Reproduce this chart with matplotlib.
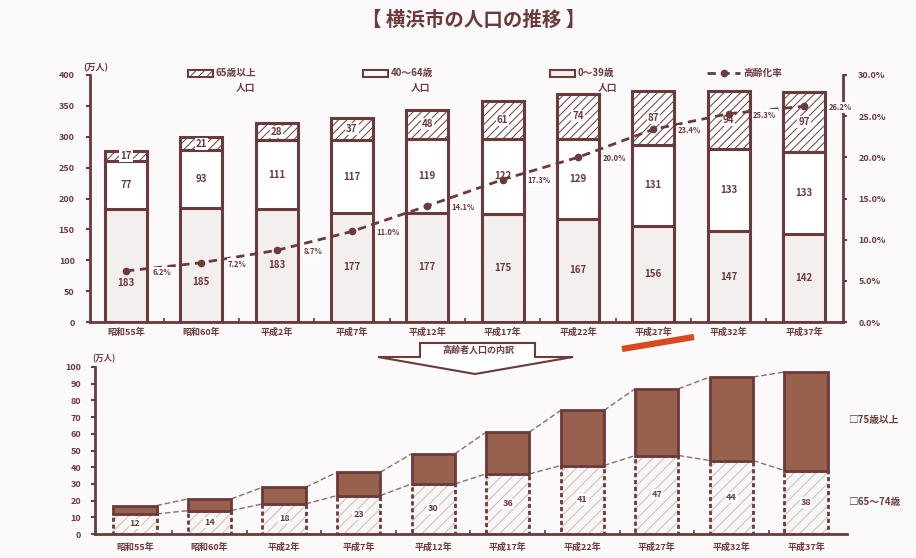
import numpy as np
import matplotlib.pyplot as plt
from matplotlib.patches import Rectangle, Polygon
from matplotlib.lines import Line2D

plt.rcParams['font.family'] = ['Noto Sans CJK JP', 'DejaVu Sans']
plt.rcParams['font.weight'] = 'bold'
plt.rcParams['hatch.linewidth'] = 0.7

# data (万人, %)
years = ['昭和55年', '昭和60年', '平成2年', '平成7年', '平成12年',
         '平成17年', '平成22年', '平成27年', '平成32年', '平成37年']
pop_0_39 = [183, 185, 183, 177, 177, 175, 167, 156, 147, 142]
pop_40_64 = [77, 93, 111, 117, 119, 122, 129, 131, 133, 133]
pop_65 = [17, 21, 28, 37, 48, 61, 74, 87, 94, 97]
aging_rate = [6.2, 7.2, 8.7, 11.0, 14.1, 17.3, 20.0, 23.4, 25.3, 26.2]

old_65_74 = [12, 14, 18, 23, 30, 36, 41, 47, 44, 38]
old_75 = [5, 7, 10, 14, 18, 25, 33, 40, 50, 59]

DARK = '#6b3a3a'
BROWN = '#98614e'
BG = '#fbf9f9'
LIGHT = '#f4efef'

W, H = 916, 558
fig = plt.figure(figsize=(W / 100, H / 100), dpi=100)
fig.patch.set_facecolor(BG)


def fx(px):
    return px / W


def fy(py):
    return 1 - py / H


x = np.arange(len(years))

# ---------------- top chart ----------------
ax = fig.add_axes([fx(90), fy(322), fx(843) - fx(90), fy(75) - fy(322)])
ax.set_facecolor('none')
bw = 0.56
b2 = np.array(pop_0_39) + np.array(pop_40_64)
ax.bar(x, pop_0_39, width=bw, color=LIGHT, edgecolor=DARK, linewidth=2.2)
ax.bar(x, pop_40_64, width=bw, bottom=pop_0_39, color='white', edgecolor=DARK, linewidth=2.2)
ax.bar(x, pop_65, width=bw, bottom=b2, color='white', edgecolor=DARK, linewidth=2.2, hatch='////')

ax.set_xlim(-0.478, 9.518)
ax.set_ylim(0, 400)
ax.set_yticks(range(0, 401, 50))
ax.set_xticks(x, years)
ax.set_xticks(x[:-1] + 0.5, minor=True)
ax.tick_params(axis='x', which='major', length=0, pad=4, labelsize=6.5, colors=DARK)
ax.tick_params(axis='x', which='minor', direction='in', length=3, width=1.2, color=DARK)
ax.tick_params(axis='y', length=3, width=1.5, pad=8, labelsize=6.5, colors=DARK)
for s in ['top', 'right']:
    ax.spines[s].set_visible(False)
for s in ['left', 'bottom']:
    ax.spines[s].set_color(DARK)
    ax.spines[s].set_linewidth(2)

for i in range(len(x)):
    y0 = pop_0_39[i] / 2
    if abs(y0 / 400 * 30 - aging_rate[i]) < 1.5:
        y0 -= 28
    ax.text(x[i], y0, str(pop_0_39[i]), ha='center', va='center', fontsize=7, color=DARK)
    ax.text(x[i], pop_0_39[i] + pop_40_64[i] / 2, str(pop_40_64[i]), ha='center', va='center',
            fontsize=7, color=DARK)
    ax.text(x[i], b2[i] + pop_65[i] / 2, str(pop_65[i]), ha='center', va='center', fontsize=7,
            color=DARK, bbox=dict(boxstyle='square,pad=0.1', fc='white', ec='none'))

ax2 = ax.twinx()
ax2.set_ylim(0, 30)
ax2.set_yticks(range(0, 31, 5))
ax2.set_yticklabels([f'{v:.1f}%' for v in range(0, 31, 5)])
ax2.tick_params(axis='y', length=3, width=1.5, pad=8, labelsize=6.5, colors=DARK)
for s in ['top', 'left', 'bottom']:
    ax2.spines[s].set_visible(False)
ax2.spines['right'].set_color(DARK)
ax2.spines['right'].set_linewidth(2)
ax2.plot(x, aging_rate, linestyle=(0, (3, 2)), marker='o', ms=4.5, color=DARK, lw=2)
for i, r in enumerate(aging_rate):
    ax2.annotate(f'{r:.1f}%', (x[i], r), xytext=(26, -1), textcoords='offset points',
                 ha='center', va='center', fontsize=5.5, color=DARK,
                 bbox=dict(boxstyle='square,pad=0.15', fc='white', ec='none'))

fig.text(fx(96), fy(68), '(万人)', ha='center', va='center', fontsize=6.5, color=DARK)

# legend of the top chart
leg = [('65歳以上', 188, dict(fc='white', hatch='////')),
       ('40～64歳', 363, dict(fc='white')),
       ('0～39歳', 550, dict(fc=LIGHT))]
for label, lx, style in leg:
    fig.add_artist(Rectangle((fx(lx), fy(77)), fx(25), 7 / H, transform=fig.transFigure,
                             ec=DARK, lw=1.5, **style))
    fig.text(fx(lx + 28), fy(73), label, ha='left', va='center', fontsize=7, color=DARK)
    fig.text(fx(lx + 28 + 30), fy(88), '人口', ha='center', va='center', fontsize=7, color=DARK)
fig.add_artist(Line2D([fx(707), fx(740)], [fy(73), fy(73)], transform=fig.transFigure,
                      ls=(0, (3, 2)), lw=2, color=DARK))
fig.add_artist(Line2D([fx(723.5)], [fy(73)], transform=fig.transFigure, marker='o', ms=4.5,
                      color=DARK, ls='none'))
fig.text(fx(743), fy(73), '高齢化率', ha='left', va='center', fontsize=7, color=DARK)

fig.text(fx(474), fy(20), '【 横浜市の人口の推移 】', ha='center', va='center', fontsize=14,
         color=DARK)

# callout arrow between the charts
call = Polygon([(fx(420), fy(343)), (fx(535), fy(343)), (fx(535), fy(357)), (fx(573), fy(357)),
                (fx(475), fy(374)), (fx(378), fy(357)), (fx(420), fy(357))],
               closed=True, transform=fig.transFigure, fc='white', ec=DARK, lw=1.5)
fig.add_artist(call)
fig.text(fx(478), fy(350), '高齢者人口の内訳', ha='center', va='center', fontsize=6.5, color=DARK)

# red mark
fig.add_artist(Line2D([fx(622), fx(694)], [fy(349), fy(337)], transform=fig.transFigure,
                      lw=4.5, color='#d64a1c', solid_capstyle='butt'))

# ---------------- bottom chart ----------------
ax3 = fig.add_axes([fx(95), fy(534), fx(847) - fx(95), fy(367) - fy(534)])
ax3.set_facecolor('none')
bw3 = 0.58
tot = np.array(old_65_74) + np.array(old_75)
for i in range(len(x) - 1):
    ax3.plot([x[i] + bw3 / 2, x[i + 1] - bw3 / 2], [tot[i], tot[i + 1]],
             ls=(0, (4, 2)), lw=1, color='#8a6f6f', zorder=1)
    ax3.plot([x[i] + bw3 / 2, x[i + 1] - bw3 / 2], [old_65_74[i], old_65_74[i + 1]],
             ls=(0, (4, 2)), lw=1, color='#8a6f6f', zorder=1)
ax3.bar(x, old_65_74, width=bw3, color='#f8f5f5', edgecolor='#cbbcbc', linewidth=0, hatch='///', zorder=2)
ax3.bar(x, old_65_74, width=bw3, fill=False, edgecolor=DARK, linewidth=2, linestyle=(0, (1.5, 1)), zorder=3)
ax3.bar(x, old_75, width=bw3, bottom=old_65_74, color=BROWN, edgecolor=DARK, linewidth=2, zorder=3)
for i in range(len(x)):
    ax3.text(x[i], old_65_74[i] / 2, str(old_65_74[i]), ha='center', va='center', fontsize=6.5,
             color=DARK, zorder=4, bbox=dict(boxstyle='square,pad=0.1', fc='white', ec='none'))

ax3.set_xlim(-0.536, 9.55)
ax3.set_ylim(0, 100)
ax3.set_yticks(range(0, 101, 10))
ax3.set_xticks(x, years)
ax3.set_xticks(x[:-1] + 0.5, minor=True)
ax3.tick_params(axis='x', which='major', length=0, pad=6, labelsize=6.5, colors=DARK)
ax3.tick_params(axis='x', which='minor', direction='in', length=3, width=1.2, color=DARK)
ax3.tick_params(axis='y', length=3, width=1.5, pad=7, labelsize=6.5, colors=DARK)
for s in ['top', 'right']:
    ax3.spines[s].set_visible(False)
for s in ['left', 'bottom']:
    ax3.spines[s].set_color(DARK)
    ax3.spines[s].set_linewidth(2)

fig.text(fx(104), fy(359), '(万人)', ha='center', va='center', fontsize=6, color=DARK)
fig.text(fx(848), fy(420), '□75歳以上', ha='left', va='center', fontsize=7, color=DARK)
fig.text(fx(848), fy(502), '□65～74歳', ha='left', va='center', fontsize=7, color=DARK)

fig.savefig('out.png', dpi=100, facecolor=fig.get_facecolor())
